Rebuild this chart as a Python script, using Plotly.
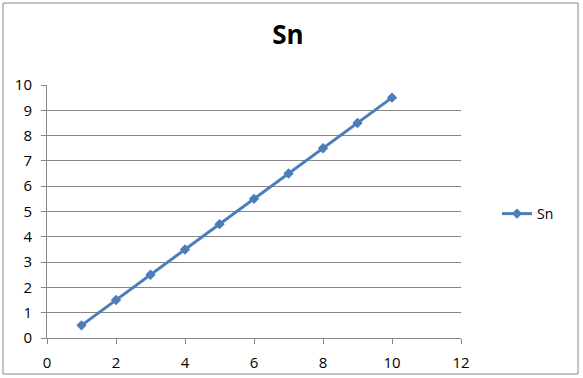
import plotly.graph_objects as go

x_vals = [1, 2, 3, 4, 5, 6, 7, 8, 9, 10]
sn_vals = [0.5, 1.5, 2.5, 3.5, 4.5, 5.5, 6.5, 7.5, 8.5, 9.5]
series_name = "Sn"
chart_title = "Sn"

W, H = 583, 378
L, R, T, B = 47, 122, 85, 40
pw, ph = W - L - R, H - T - B

def px2x(p):
    return (p - L) / pw

def px2y(p):
    return (H - B - p) / ph

fig = go.Figure()
fig.add_trace(go.Scatter(
    x=x_vals, y=sn_vals, name=series_name, mode="lines+markers",
    line=dict(color="#4A7EBB", width=3),
    marker=dict(symbol="diamond", size=8, color="#4A7EBB"),
))

font_family = "Open Sans, Liberation Sans, sans-serif"
fig.update_layout(
    width=W, height=H,
    margin=dict(l=L, r=R, t=T, b=B, autoexpand=False),
    paper_bgcolor="white", plot_bgcolor="white",
    title=dict(text="<b>" + chart_title + "</b>", x=288 / W, xref="container",
               xanchor="center", y=1 - 35 / H, yanchor="middle",
               font=dict(size=26, color="black", family=font_family)),
    font=dict(family=font_family, size=14, color="black"),
    showlegend=True,
    legend=dict(x=px2x(497), y=px2y(214), xanchor="left", yanchor="middle",
                font=dict(size=14, color="black"), bgcolor="rgba(0,0,0,0)",
                itemwidth=30),
    xaxis=dict(range=[0, 12], dtick=2, showgrid=False, zeroline=False,
               showline=True, linecolor="#868686", linewidth=1,
               ticks="outside", ticklen=5, tickcolor="#868686",
               ticklabelstandoff=6, automargin=False,
               tickfont=dict(size=15)),
    yaxis=dict(range=[0, 10], dtick=1, showgrid=True, gridcolor="#868686",
               gridwidth=1, zeroline=False, showline=True,
               linecolor="#868686", linewidth=1,
               ticks="outside", ticklen=5, tickcolor="#868686",
               ticklabelstandoff=6, automargin=False,
               tickfont=dict(size=15)),
    shapes=[dict(type="rect", xref="paper", yref="paper",
                 x0=px2x(3), x1=px2x(578), y0=px2y(374), y1=px2y(3),
                 line=dict(color="#868686", width=1), layer="below")],
)

fig.write_html("out.html")
